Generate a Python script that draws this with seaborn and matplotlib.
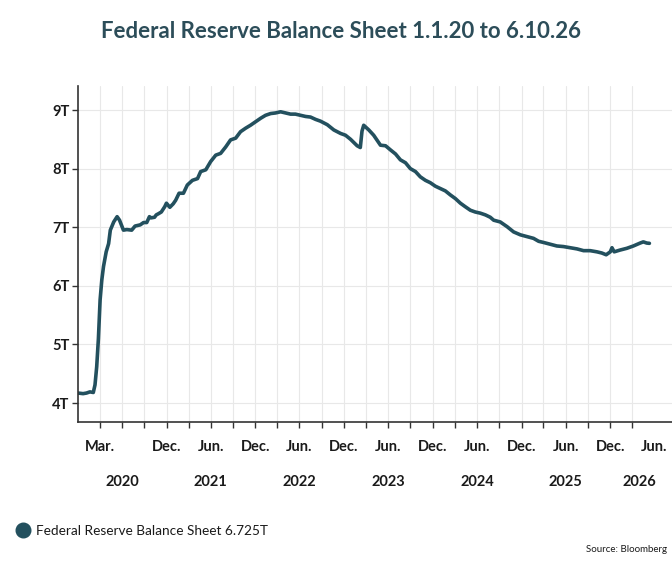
import matplotlib
matplotlib.use("Agg")
import matplotlib.pyplot as plt
import matplotlib.transforms as mtransforms
from matplotlib.lines import Line2D
import seaborn as sns
import pandas as pd
import numpy as np

# ---------------- data ----------------
dates = [
    "2020-01-01", "2020-01-22", "2020-02-05", "2020-02-19", "2020-03-04", "2020-03-11",
    "2020-03-18", "2020-03-25", "2020-04-01", "2020-04-08", "2020-04-15", "2020-04-26",
    "2020-05-06", "2020-05-13", "2020-05-27", "2020-06-10", "2020-06-20", "2020-07-06",
    "2020-07-20", "2020-08-09", "2020-08-23", "2020-09-13", "2020-09-27", "2020-10-10",
    "2020-10-21", "2020-10-28", "2020-11-11", "2020-11-18", "2020-11-27", "2020-12-09",
    "2020-12-23", "2020-12-30", "2021-01-13", "2021-01-27", "2021-02-06", "2021-02-20",
    "2021-03-10", "2021-03-26", "2021-04-16", "2021-05-07", "2021-05-20", "2021-06-10",
    "2021-06-30", "2021-07-21", "2021-08-10", "2021-08-31", "2021-09-20", "2021-10-11",
    "2021-10-31", "2021-11-21", "2021-12-11", "2022-01-01", "2022-01-22", "2022-02-11",
    "2022-03-04", "2022-03-24", "2022-04-14", "2022-05-04", "2022-05-25", "2022-06-14",
    "2022-07-05", "2022-07-26", "2022-08-15", "2022-09-05", "2022-09-25", "2022-10-23",
    "2022-11-19", "2022-12-17", "2023-01-06", "2023-01-27", "2023-02-23", "2023-03-08",
    "2023-03-15", "2023-03-22", "2023-04-12", "2023-05-02", "2023-05-30", "2023-06-20",
    "2023-07-10", "2023-07-31", "2023-08-20", "2023-09-10", "2023-09-30", "2023-10-21",
    "2023-11-10", "2023-12-01", "2023-12-21", "2024-01-11", "2024-02-01", "2024-02-21",
    "2024-03-13", "2024-04-02", "2024-04-23", "2024-05-13", "2024-06-03", "2024-06-23",
    "2024-07-14", "2024-08-04", "2024-08-24", "2024-09-07", "2024-10-04", "2024-11-01",
    "2024-11-28", "2024-12-26", "2025-01-22", "2025-02-18", "2025-03-11", "2025-03-31",
    "2025-04-28", "2025-05-25", "2025-06-21", "2025-07-19", "2025-08-16", "2025-09-12",
    "2025-10-09", "2025-11-06", "2025-11-26", "2025-12-14", "2025-12-31", "2026-01-07",
    "2026-01-16", "2026-02-09", "2026-03-09", "2026-04-05", "2026-05-03", "2026-05-16",
    "2026-05-30", "2026-06-10",
]
balance_trillions = [
    4.17, 4.16, 4.17, 4.19, 4.18, 4.31,
    4.62, 5.10, 5.76, 6.10, 6.33, 6.58,
    6.72, 6.95, 7.09, 7.18, 7.12, 6.95,
    6.96, 6.95, 7.02, 7.04, 7.08, 7.08,
    7.18, 7.16, 7.17, 7.21, 7.23, 7.26,
    7.35, 7.41, 7.34, 7.40, 7.46, 7.58,
    7.58, 7.72, 7.80, 7.83, 7.95, 7.98,
    8.12, 8.23, 8.26, 8.37, 8.49, 8.52,
    8.63, 8.69, 8.74, 8.80, 8.86, 8.91,
    8.94, 8.95, 8.97, 8.95, 8.93, 8.93,
    8.91, 8.89, 8.88, 8.84, 8.81, 8.75,
    8.66, 8.60, 8.57, 8.50, 8.39, 8.36,
    8.64, 8.74, 8.66, 8.57, 8.40, 8.39,
    8.32, 8.25, 8.15, 8.10, 8.00, 7.95,
    7.86, 7.80, 7.76, 7.70, 7.66, 7.62,
    7.55, 7.49, 7.41, 7.35, 7.29, 7.26,
    7.24, 7.21, 7.17, 7.12, 7.09, 7.01,
    6.92, 6.87, 6.84, 6.81, 6.76, 6.74,
    6.71, 6.68, 6.67, 6.65, 6.63, 6.60,
    6.60, 6.58, 6.56, 6.53, 6.58, 6.65,
    6.58, 6.61, 6.64, 6.68, 6.73, 6.75,
    6.73, 6.725,
]
y_ticks = [4, 5, 6, 7, 8, 9]
quarter_ticks = pd.date_range("2020-03-31", "2026-03-31", freq="QE")
month_labels = {"2020-03-31": "Mar.", "2020-12-31": "Dec.", "2021-06-30": "Jun.",
                "2021-12-31": "Dec.", "2022-06-30": "Jun.", "2022-12-31": "Dec.",
                "2023-06-30": "Jun.", "2023-12-31": "Dec.", "2024-06-30": "Jun.",
                "2024-12-31": "Dec.", "2025-06-30": "Jun.", "2025-12-31": "Dec."}
extra_label = ("2026-06-30", "Jun.")
year_labels = {"2020": "2020-06-30", "2021": "2021-06-30", "2022": "2022-06-30",
               "2023": "2023-06-30", "2024": "2024-06-30", "2025": "2025-06-30",
               "2026": "2026-04-28"}
series_name = "Federal Reserve Balance Sheet"
last_value = "6.725T"
title = "Federal Reserve Balance Sheet 1.1.20 to 6.10.26"
source = "Source: Bloomberg"

df = pd.DataFrame({"date": pd.to_datetime(dates), "value": balance_trillions})

# ---------------- style ----------------
sns.set_theme(style="white")
plt.rcParams["font.family"] = ["Lato", "DejaVu Sans"]
LINE = "#23505e"
TITLE = "#2c4d59"
TXT = "#1a1a1a"

fig = plt.figure(figsize=(6.72, 5.76), dpi=100)
ax = fig.add_axes([78 / 672, 1 - 422 / 576, 1 - 78 / 672, (422 - 86) / 576])

sns.lineplot(data=df, x="date", y="value", ax=ax, color=LINE, linewidth=2.6,
             legend=False)

ax.set_xlim(pd.Timestamp("2020-01-01"), pd.Timestamp("2026-09-11"))
ax.set_ylim(3.676, 9.41)

ax.set_yticks(y_ticks)
ax.set_yticklabels([f"{v}T" for v in y_ticks])
ax.set_xticks(quarter_ticks)
ax.set_xticklabels([month_labels.get(d.strftime("%Y-%m-%d"), "") for d in quarter_ticks])

ax.tick_params(axis="y", which="major", length=4, width=1.0, color="#333333",
               pad=2, labelsize=10.5, labelcolor=TXT, left=True)
ax.tick_params(axis="x", which="major", length=4, width=1.0, color="#333333",
               pad=9, labelsize=10.5, labelcolor=TXT, bottom=True)
for lab in ax.get_xticklabels() + ax.get_yticklabels():
    lab.set_fontweight("bold")

ax.grid(True, color="#e8e8e8", linewidth=0.8)
ax.set_axisbelow(True)
for s in ["top", "right"]:
    ax.spines[s].set_visible(False)
for s in ["left", "bottom"]:
    ax.spines[s].set_color("#333333")
    ax.spines[s].set_linewidth(1.2)
ax.set_xlabel("")
ax.set_ylabel("")

trans = mtransforms.blended_transform_factory(ax.transData, ax.transAxes)
ax.text(pd.Timestamp(extra_label[0]), -(447 - 422) / 336, extra_label[1],
        transform=trans, ha="center", va="center", fontsize=10.5,
        fontweight="bold", color=TXT, clip_on=False)
for yr, d in year_labels.items():
    ax.text(pd.Timestamp(d), -(482 - 422) / 336, yr, transform=trans,
            ha="center", va="center", fontsize=10.5, fontweight="bold",
            color=TXT, clip_on=False)

fig.text(341 / 672, 1 - 31 / 576, title, ha="center", va="center",
         fontsize=16, fontweight="bold", color=TITLE)

handle = Line2D([], [], linestyle="none", marker="o", markersize=10.5,
                markerfacecolor=LINE, markeredgecolor=LINE)
fig.legend([handle], [f"{series_name} {last_value}"], loc="center left",
           bbox_to_anchor=(3 / 672, 1 - 531 / 576), frameon=False,
           fontsize=9.8, handletextpad=0.3, handlelength=1.2,
           labelcolor=TXT)

fig.text(667 / 672, 1 - 550 / 576, source, ha="right", va="center",
         fontsize=7, color=TXT)

fig.savefig("out.png", dpi=100)
